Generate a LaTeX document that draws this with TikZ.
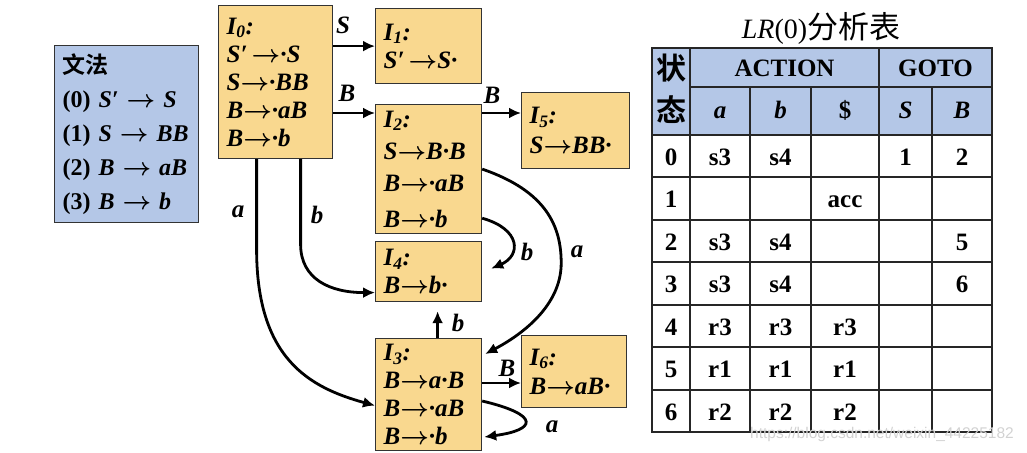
\documentclass[tikz,border=0pt]{standalone}
\usepackage{fontspec}
\setmainfont{Liberation Serif}
\setsansfont{Liberation Sans}
\newfontfamily\cjk{Noto Sans CJK SC}[BoldFont={Noto Sans CJK SC Bold}]
\usetikzlibrary{arrows.meta,calc}

\definecolor{itemfill}{RGB}{249,216,143}
\definecolor{headfill}{RGB}{180,199,231}

\newcommand{\itemfont}{\fontsize{25}{28}\selectfont\bfseries\itshape}
\newcommand{\gramfont}{\fontsize{24}{34}\selectfont\bfseries}
\newcommand{\cellfont}{\fontsize{25}{28}\selectfont\bfseries}
\newcommand{\tto}{{\boldmath$\rightarrow$}}

\tikzstyle{state}=[rectangle,draw=black!80,line width=1.2pt,fill=itemfill,anchor=north west,align=left,inner xsep=8pt,inner ysep=0pt,font=\itemfont]
\tikzstyle{trans}=[->,line width=2.8pt]
\tikzstyle{lbl}=[font=\itemfont,text height=17pt,text depth=0pt,inner sep=1pt]
\tikzstyle{cell}=[font=\cellfont,text height=17pt,text depth=0pt,inner sep=0pt]
\tikzstyle{hcjk}=[font=\cjk\bfseries\fontsize{30}{30}\selectfont,inner sep=0pt]
\tikzstyle{tabline}=[line width=1.3pt,draw=black!85]

\begin{document}
\begin{tikzpicture}[x=1pt,y=-1pt,>={Latex[length=12pt,width=11pt]}]
  \useasboundingbox (0,0) rectangle (1027,452);

  % grammar
  \node[state,fill=headfill,font=\gramfont,text width=128pt,minimum height=177pt] (gram) at (54,45)
    {{\cjk\fontsize{23}{30}\selectfont 文法}\\(0) \textit{S′ \tto{} S}\\(1) \textit{S \tto{} BB}\\(2) \textit{B \tto{} aB}\\(3) \textit{B \tto{} b}};

  % item sets
  \node[state,text width=98pt,minimum height=153pt] (s0) at (218,5)
    {I\textsubscript{0}:\\S′\,\tto·S\\S\tto·BB\\B\tto·aB\\B\tto·b};
  \node[state,text width=90pt,minimum height=75pt] (s1) at (375,8)
    {I\textsubscript{1}:\\S′\,\tto S·};
  \node[state,text width=90pt,minimum height=129pt] (s2) at (375,104)
    {I\textsubscript{2}:\\[4pt]S\tto B·B\\[4pt]B\tto·aB\\[8pt]B\tto·b};
  \node[state,text width=92pt,minimum height=76pt] (s5) at (521,92)
    {I\textsubscript{5}:\\[2pt]S\tto BB·};
  \node[state,text width=90pt,minimum height=60pt] (s4) at (375,241)
    {I\textsubscript{4}:\\B\tto b·};
  \node[state,text width=90pt,minimum height=112pt] (s3) at (375,338)
    {I\textsubscript{3}:\\B\tto a·B\\B\tto·aB\\B\tto·b};
  \node[state,text width=89pt,minimum height=72pt] (s6) at (521,335)
    {I\textsubscript{6}:\\[1pt]B\tto aB·};

  % transitions
  \coordinate (s2in) at ($(s2.north west)+(0,9)$);
  \coordinate (s2out) at ($(s2.north east)+(0,9)$);
  \coordinate (s3B) at ($(s3.north east)+(0,45)$);
  \draw[trans] (s0.east |- s1.west) -- (s1.west);
  \draw[trans] (s0.east |- s2in) -- (s2in);
  \draw[trans] (s2out) -- (s2out -| s5.west);
  \draw[trans] (s3B) -- (s3B -| s6.west);
  \draw[trans] ($(s3.north)+(9,0)$) -- ($(s4.south)+(9,9)$);
  \draw[trans] ($(s0.south)+(25,0)$) -- ++(0,85) .. controls +(0,35) and +(-45,0) .. ($(s4.west)+(0,21)$);
  \draw[trans] ($(s0.south)+(-19,0)$) -- ++(0,90) .. controls +(0,110) and +(-65,-18) .. ($(s3.west)+(0,11)$);
  \draw[trans] ($(s2.south east)+(0,-16)$) .. controls +(39,11) and +(30,-13) .. ($(s4.east)+(9,-3)$);
  \draw[trans] (s2.east) .. controls +(64,22) and +(0,-37) .. ++(79,94)
    .. controls +(0,43) and +(36,-19) .. ($(s3.north east)+(3,16)$);
  \draw[trans] ($(s3.north east)+(0,63)$) .. controls +(59,14) and +(52,-7) .. ($(s3.north east)+(2,99)$);

  % edge labels
  \node[lbl] (l01) at (343,25) {S};
  \node[lbl] (l02) at (347,93) {B};
  \node[lbl] (l25) at (492,95) {B};
  \node[lbl] (l04) at (317,215) {b};
  \node[lbl] (l03) at (238,209) {a};
  \node[lbl] (l24) at (527,252) {b};
  \node[lbl] (l23) at (577,249) {a};
  \node[lbl] (l34) at (458,323) {b};
  \node[lbl] (l36) at (507,368) {B};
  \node[lbl] (l33) at (552,424) {a};

  % LR(0) table
  \node (title) at (821,28) {\fontsize{28}{30}\selectfont\textit{LR}(0){\cjk\fontsize{31}{30}\selectfont 分析表}};
  \fill[headfill] (652,48) rectangle (992,135);
  \foreach \y in {135,177,220,262,305,347,390}
    \draw[tabline] (652,\y) -- (992,\y);
  \draw[tabline] (690,87) -- (992,87);
  \foreach \x in {690,879}
    \draw[tabline] (\x,48) -- (\x,432);
  \foreach \x in {750,811,932}
    \draw[tabline] (\x,87) -- (\x,432);
  \draw[tabline] (652,48) rectangle (992,432);

  \node[hcjk] (hz) at (671,68) {状};
  \node[hcjk] (ht) at (671,110) {态};
  \node[cell] (hact) at (784.5,68) {ACTION};
  \node[cell] (hgo) at (935.5,68) {GOTO};
  \node[cell] (ha) at (720,110) {\textit{a}};
  \node[cell] (hb) at (780.5,110) {\textit{b}};
  \node[cell] (hd) at (845,110) {\$};
  \node[cell] (hS) at (905.5,110) {\textit{S}};
  \node[cell] (hB) at (962,110) {\textit{B}};

  \foreach \st/\va/\vb/\vd/\vS/\vB [count=\i from 0] in
    {0/s3/s4//1/2, 1///acc//, 2/s3/s4///5, 3/s3/s4///6, 4/r3/r3/r3//, 5/r1/r1/r1//, 6/r2/r2/r2//}
  {
    \pgfmathsetmacro\yc{157+42.43*\i}
    \node[cell] (t\i-st) at (671,\yc) {\st};
    \node[cell] (t\i-a) at (720,\yc) {\va};
    \node[cell] (t\i-b) at (780.5,\yc) {\vb};
    \node[cell] (t\i-d) at (845,\yc) {\vd};
    \node[cell] (t\i-S) at (905.5,\yc) {\vS};
    \node[cell] (t\i-B) at (962,\yc) {\vB};
  }

  \node[text=gray!35,font=\sffamily\fontsize{15.5}{18}\selectfont] (wm) at (882,434) {https://blog.csdn.net/weixin\_44225182};
\end{tikzpicture}
\end{document}
